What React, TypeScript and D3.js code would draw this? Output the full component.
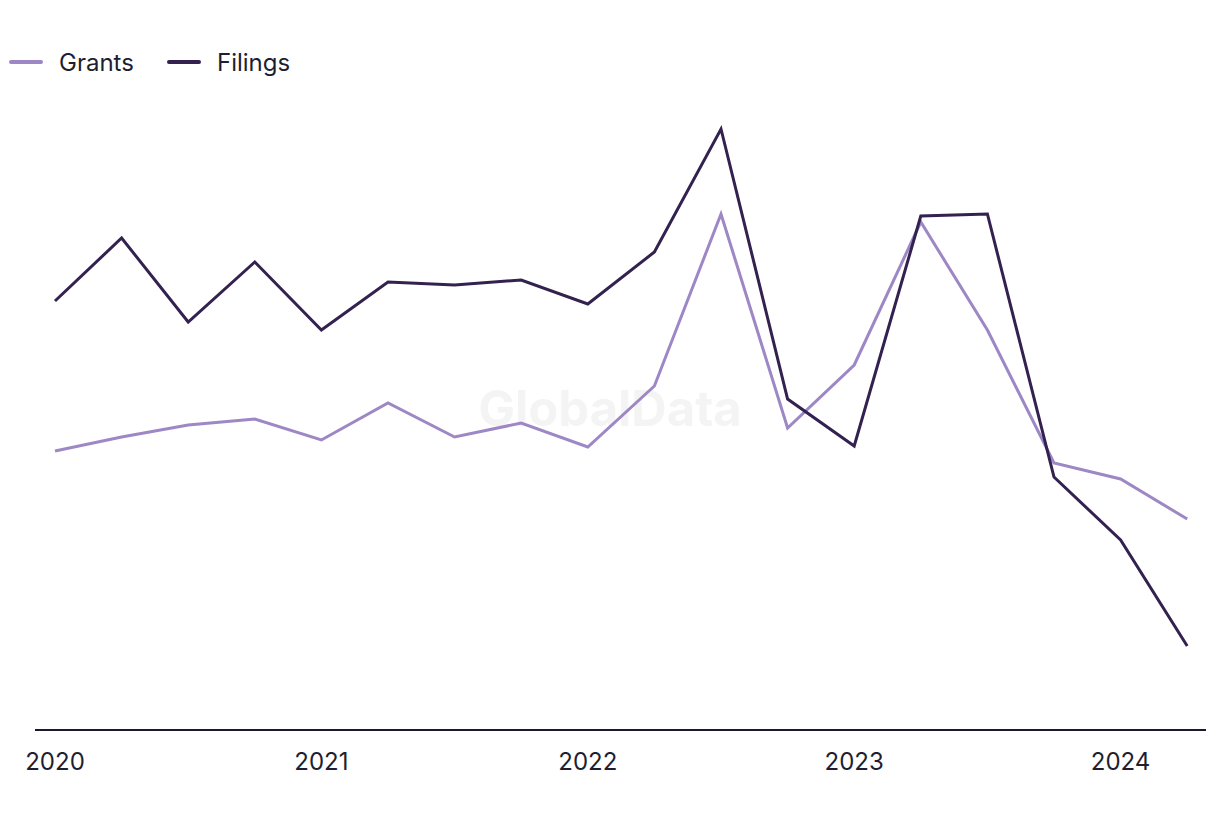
import React, { useEffect, useRef } from 'react';
import * as d3 from 'd3';

// quarterly points, 2020 Q1 .. 2024 Q2
const quarters = [
  '2020Q1', '2020Q2', '2020Q3', '2020Q4',
  '2021Q1', '2021Q2', '2021Q3', '2021Q4',
  '2022Q1', '2022Q2', '2022Q3', '2022Q4',
  '2023Q1', '2023Q2', '2023Q3', '2023Q4',
  '2024Q1', '2024Q2',
];

const grants = [
  27.9, 29.3, 30.5, 31.1,
  29.0, 32.7, 29.3, 30.7,
  28.3, 34.4, 51.6, 30.2,
  36.5, 50.8, 40.0, 26.7,
  25.1, 21.1,
];

const filings = [
  42.9, 49.2, 40.8, 46.8,
  40.0, 44.8, 44.5, 45.0,
  42.6, 47.8, 60.1, 33.1,
  28.4, 51.4, 51.6, 25.3,
  19.0, 8.4,
];

const yearTicks = ['2020', '2021', '2022', '2023', '2024'];

const GRANTS_COLOR = '#9d87c5';
const FILINGS_COLOR = '#33214f';
const TEXT_COLOR = '#1e1e30';
const FONT = 'Inter, "Noto Sans", sans-serif';

const W = 1220;
const H = 820;

const App: React.FC = () => {
  const svgRef = useRef<SVGSVGElement>(null);

  useEffect(() => {
    if (!svgRef.current) return;
    document.body.style.margin = '0';

    const svg = d3.select(svgRef.current);
    svg.selectAll('*').remove();

    const x = d3.scaleLinear()
      .domain([0, quarters.length - 1])
      .range([55, 55 + 66.6 * (quarters.length - 1)]);

    const y = d3.scaleLinear().domain([0, 60]).range([730, 130]);

    // watermark
    svg.append('text')
      .attr('x', 610)
      .attr('y', 426)
      .attr('text-anchor', 'middle')
      .attr('font-family', FONT)
      .attr('font-weight', 700)
      .attr('font-size', 49)
      .attr('fill', '#f4f4f5')
      .text('GlobalData');

    // x axis baseline
    svg.append('line')
      .attr('x1', 35)
      .attr('x2', 1206)
      .attr('y1', 730)
      .attr('y2', 730)
      .attr('stroke', '#1a1a2e')
      .attr('stroke-width', 2);

    svg.append('g')
      .selectAll('text')
      .data(yearTicks)
      .enter()
      .append('text')
      .attr('x', d => x(quarters.indexOf(d + 'Q1')))
      .attr('y', 770)
      .attr('text-anchor', 'middle')
      .attr('font-family', FONT)
      .attr('font-size', 24)
      .attr('fill', TEXT_COLOR)
      .text(d => d);

    const line = d3.line<number>()
      .x((_, i) => x(i))
      .y(d => y(d));

    const series = [
      { name: 'Grants', values: grants, color: GRANTS_COLOR },
      { name: 'Filings', values: filings, color: FILINGS_COLOR },
    ];

    series.forEach(s => {
      svg.append('path')
        .datum(s.values)
        .attr('d', line)
        .attr('fill', 'none')
        .attr('stroke', s.color)
        .attr('stroke-width', 3)
        .attr('stroke-linejoin', 'miter');
    });

    // legend
    const legendX = [10, 168];
    series.forEach((s, i) => {
      const g = svg.append('g').attr('transform', `translate(${legendX[i]},62)`);
      g.append('line')
        .attr('x1', 1)
        .attr('x2', 31)
        .attr('stroke', s.color)
        .attr('stroke-width', 4)
        .attr('stroke-linecap', 'round');
      g.append('text')
        .attr('x', 49)
        .attr('y', 8.5)
        .attr('font-family', FONT)
        .attr('font-size', 24)
        .attr('fill', TEXT_COLOR)
        .text(s.name);
    });
  }, []);

  return (
    <div style={{ width: W, height: H }}>
      <svg ref={svgRef} width={W} height={H} style={{ display: 'block', background: '#fff' }} />
    </div>
  );
};

export default App;
